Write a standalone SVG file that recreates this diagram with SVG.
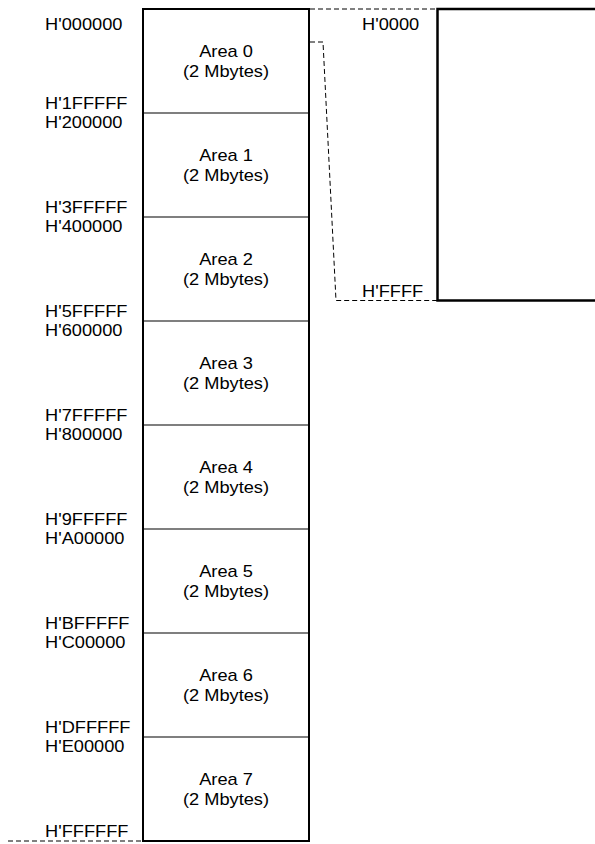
<svg xmlns="http://www.w3.org/2000/svg" width="595" height="844" viewBox="0 0 595 844">
<style>
text{font-family:"Liberation Sans",Arial,sans-serif;font-size:16px;fill:#000}
.c{text-anchor:middle}
.frame{fill:none;stroke:#000;stroke-width:2}
.div{stroke:#000;stroke-width:1.2}
.dash{fill:none;stroke:#000;stroke-width:1;stroke-dasharray:5,3}
</style>
<rect width="595" height="844" fill="#fff"/>
<g id="connectors">
<path class="dash" d="M310,9 H437"/>
<path class="dash" d="M310,42 H323 L336,300.5 H437"/>
<path class="dash" d="M8,841 H143"/>
</g>
<g id="memory-map">
<rect class="frame" x="143" y="9" width="166" height="832"/>
<line class="div" x1="143" y1="113" x2="309" y2="113"/>
<line class="div" x1="143" y1="217" x2="309" y2="217"/>
<line class="div" x1="143" y1="321" x2="309" y2="321"/>
<line class="div" x1="143" y1="425" x2="309" y2="425"/>
<line class="div" x1="143" y1="529" x2="309" y2="529"/>
<line class="div" x1="143" y1="633" x2="309" y2="633"/>
<line class="div" x1="143" y1="737" x2="309" y2="737"/>
</g>
<g id="area0"><text class="c" transform="matrix(1.14 0 0 1 226 57)">Area 0</text><text class="c" transform="matrix(1.14 0 0 1 226 76.5)">(2 Mbytes)</text></g>
<g id="area1"><text class="c" transform="matrix(1.14 0 0 1 226 161)">Area 1</text><text class="c" transform="matrix(1.14 0 0 1 226 180.5)">(2 Mbytes)</text></g>
<g id="area2"><text class="c" transform="matrix(1.14 0 0 1 226 265)">Area 2</text><text class="c" transform="matrix(1.14 0 0 1 226 284.5)">(2 Mbytes)</text></g>
<g id="area3"><text class="c" transform="matrix(1.14 0 0 1 226 369)">Area 3</text><text class="c" transform="matrix(1.14 0 0 1 226 388.5)">(2 Mbytes)</text></g>
<g id="area4"><text class="c" transform="matrix(1.14 0 0 1 226 473)">Area 4</text><text class="c" transform="matrix(1.14 0 0 1 226 492.5)">(2 Mbytes)</text></g>
<g id="area5"><text class="c" transform="matrix(1.14 0 0 1 226 577)">Area 5</text><text class="c" transform="matrix(1.14 0 0 1 226 596.5)">(2 Mbytes)</text></g>
<g id="area6"><text class="c" transform="matrix(1.14 0 0 1 226 681)">Area 6</text><text class="c" transform="matrix(1.14 0 0 1 226 700.5)">(2 Mbytes)</text></g>
<g id="area7"><text class="c" transform="matrix(1.14 0 0 1 226 785)">Area 7</text><text class="c" transform="matrix(1.14 0 0 1 226 804.5)">(2 Mbytes)</text></g>
<g id="labels">
<text transform="matrix(1.14 0 0 1 45 30)">H'000000</text>
<text transform="matrix(1.14 0 0 1 45 108.5)">H'1FFFFF</text>
<text transform="matrix(1.14 0 0 1 45 127.5)">H'200000</text>
<text transform="matrix(1.14 0 0 1 45 212.5)">H'3FFFFF</text>
<text transform="matrix(1.14 0 0 1 45 231.5)">H'400000</text>
<text transform="matrix(1.14 0 0 1 45 316.5)">H'5FFFFF</text>
<text transform="matrix(1.14 0 0 1 45 335.5)">H'600000</text>
<text transform="matrix(1.14 0 0 1 45 420.5)">H'7FFFFF</text>
<text transform="matrix(1.14 0 0 1 45 439.5)">H'800000</text>
<text transform="matrix(1.14 0 0 1 45 524.5)">H'9FFFFF</text>
<text transform="matrix(1.14 0 0 1 45 543.5)">H'A00000</text>
<text transform="matrix(1.14 0 0 1 45 628.5)">H'BFFFFF</text>
<text transform="matrix(1.14 0 0 1 45 647.5)">H'C00000</text>
<text transform="matrix(1.14 0 0 1 45 732.5)">H'DFFFFF</text>
<text transform="matrix(1.14 0 0 1 45 751.5)">H'E00000</text>
<text transform="matrix(1.14 0 0 1 45 837)">H'FFFFFF</text>
</g>
<g id="expanded-area">
<rect x="437.5" y="9" width="200" height="291.5" fill="none" stroke="#000" stroke-width="2.5"/>
<text transform="matrix(1.14 0 0 1 362 30)">H'0000</text>
<text transform="matrix(1.14 0 0 1 362 297)">H'FFFF</text>
</g>
</svg>
